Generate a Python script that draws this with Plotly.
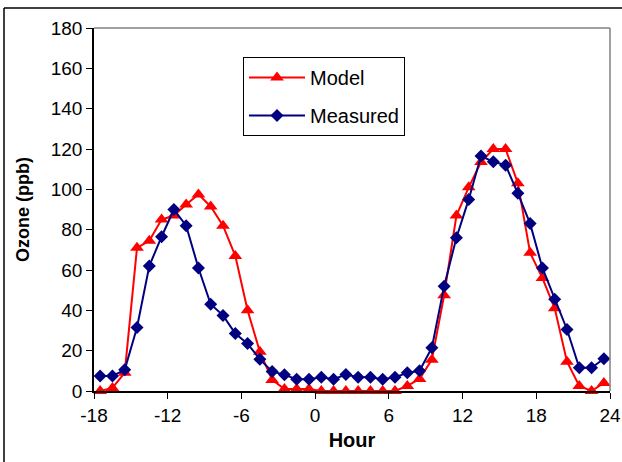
import plotly.graph_objects as go

# Hourly ozone, plotted at the middle of each hour
hours = [h + 0.5 for h in range(-18, 24)]

model = [0, 1.5, 9, 71, 74.5, 85, 87, 92.5, 97.5, 91.5, 82, 67, 40, 19.5,
         5.5, 1, 1, 1, 0, 0, 0, 0, 0, 0, 0, 2.5, 6, 15.5, 47.5, 87, 101,
         113.5, 120, 120, 103, 68.5, 56, 41, 14.5, 2.5, 0, 4]

measured = [7.5, 7.5, 10.5, 31.5, 62, 76.5, 90, 82, 61, 43, 37.5, 28.5, 23.5,
            15.7, 9.7, 8, 5.8, 5.8, 6.8, 5.8, 8.2, 6.8, 6.8, 5.8, 6.8, 9, 10,
            21.5, 52, 76, 95, 116.5, 113.7, 112, 98, 83, 61, 45.5, 30.5, 11.5,
            11.5, 16]

x_ticks = [-18, -12, -6, 0, 6, 12, 18, 24]
y_ticks = list(range(0, 181, 20))

W, H = 622, 462
ML, MR, MT, MB = 94, 12, 28, 71
font = "Liberation Sans, Arial, sans-serif"

fig = go.Figure()
fig.add_trace(go.Scatter(
    x=hours, y=model, name="Model", legendgroup="model",
    mode="lines+markers",
    line=dict(color="#FF0000", width=2),
    marker=dict(symbol="triangle-up", size=12, color="#FF0000"),
    cliponaxis=False,
))
fig.add_trace(go.Scatter(
    x=hours, y=measured, name="Measured", legendgroup="measured",
    mode="lines+markers",
    line=dict(color="#000080", width=2),
    marker=dict(symbol="diamond", size=10, color="#000080"),
    cliponaxis=False,
))

pw = W - ML - MR
ph = H - MT - MB


def px_x(p):
    return (p - ML) / pw


def px_y(p):
    return (H - MB - p) / ph


shapes = [
    # plot area border (top and right) in grey
    dict(type="line", xref="paper", yref="paper", x0=0, x1=1, y0=1, y1=1,
         line=dict(color="#808080", width=1.5)),
    dict(type="line", xref="paper", yref="paper", x0=1, x1=1, y0=0, y1=1,
         line=dict(color="#808080", width=1.5)),
    # outer chart frame
    dict(type="line", xref="paper", yref="paper", x0=px_x(4), x1=px_x(W),
         y0=px_y(8), y1=px_y(8), line=dict(color="#000000", width=1.5)),
    dict(type="line", xref="paper", yref="paper", x0=px_x(4), x1=px_x(4),
         y0=px_y(8), y1=px_y(H), line=dict(color="#000000", width=1.5)),
]

fig.update_layout(
    width=W, height=H,
    margin=dict(l=ML, r=MR, t=MT, b=MB, autoexpand=False),
    paper_bgcolor="white", plot_bgcolor="white",
    font=dict(family=font, size=19, color="black"),
    showlegend=True,
    legend=dict(
        x=px_x(243), y=px_y(57), xanchor="left", yanchor="top",
        bgcolor="white", bordercolor="black", borderwidth=1,
        font=dict(size=20), itemwidth=56,
        traceorder="grouped", tracegroupgap=9,
    ),
    shapes=shapes,
    xaxis=dict(
        range=[-18, 24], tickmode="array", tickvals=x_ticks,
        ticktext=[str(t) for t in x_ticks],
        showgrid=False, zeroline=False,
        showline=True, linecolor="black", linewidth=1.5,
        ticks="outside", ticklen=6, tickcolor="black",
        ticklabeloverflow="allow", automargin=False,
        title=dict(text="<b>Hour</b>", font=dict(size=20), standoff=8),
    ),
    yaxis=dict(
        range=[0, 180], tickmode="array", tickvals=y_ticks,
        showgrid=False, zeroline=False,
        showline=True, linecolor="black", linewidth=1.5,
        ticks="outside", ticklen=6, tickcolor="black",
        automargin=False,
        title=dict(text="<b>Ozone (ppb)</b>", font=dict(size=18), standoff=16),
    ),
)

fig.write_html("out.html")
